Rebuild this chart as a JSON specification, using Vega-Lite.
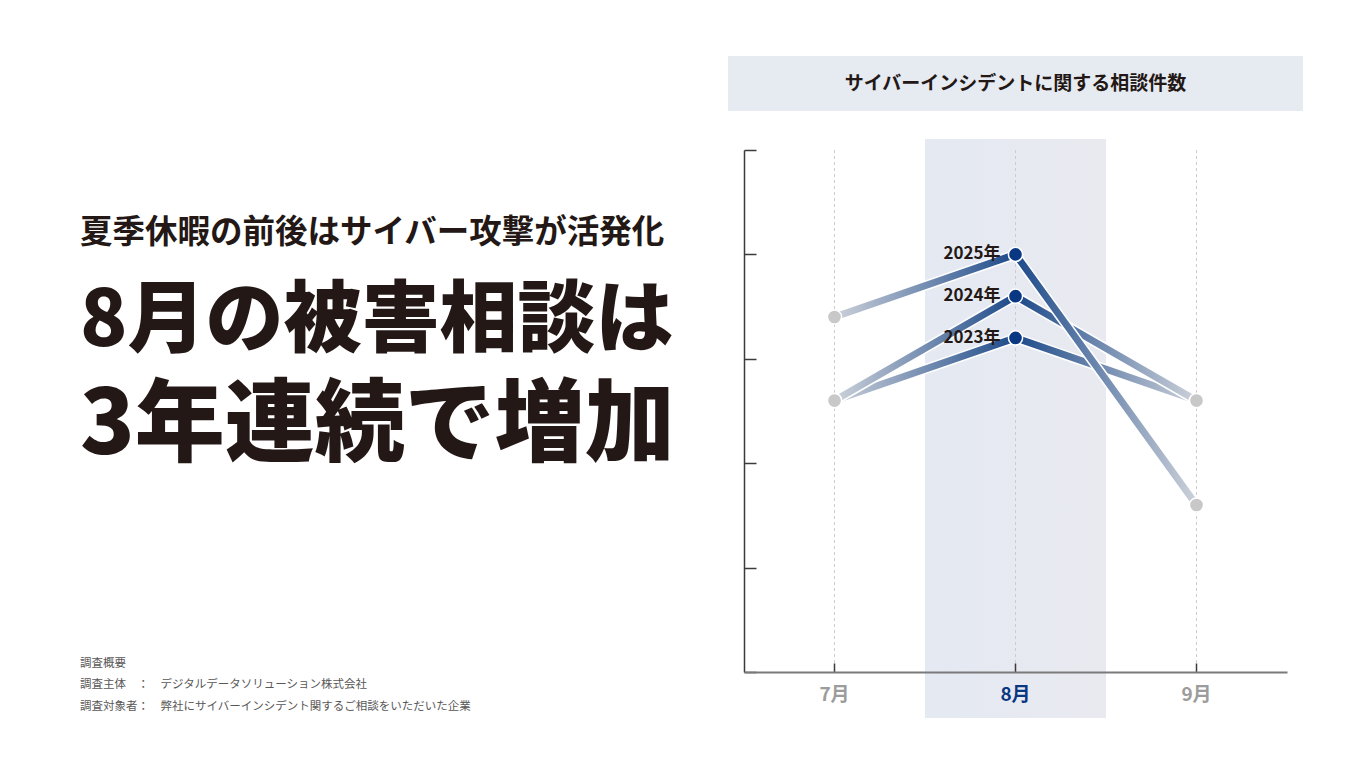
{
  "$schema": "https://vega.github.io/schema/vega-lite/v6.json",
  "background": "white",
  "padding": {"left": 80, "top": 56, "right": 0, "bottom": 0},
  "spacing": 28,
  "config": {
    "font": "Noto Sans CJK JP",
    "view": {"stroke": null}
  },
  "datasets": {
    "counts": [
      {"month": "7月", "series": "2023年", "count": 2.6},
      {"month": "8月", "series": "2023年", "count": 3.2},
      {"month": "9月", "series": "2023年", "count": 2.6},
      {"month": "7月", "series": "2024年", "count": 2.6},
      {"month": "8月", "series": "2024年", "count": 3.6},
      {"month": "9月", "series": "2024年", "count": 2.6},
      {"month": "7月", "series": "2025年", "count": 3.4},
      {"month": "8月", "series": "2025年", "count": 4.0},
      {"month": "9月", "series": "2025年", "count": 1.6}
    ],
    "months": [{"month": "7月"}, {"month": "8月"}, {"month": "9月"}],
    "highlight": [{"month": "8月"}],
    "header": [{"label": "サイバーインシデントに関する相談件数"}]
  },
  "hconcat": [
    {
      "spacing": 0,
      "vconcat": [
        {
          "width": 620,
          "height": 160,
          "data": {"values": []},
          "mark": "text"
        },
        {
          "width": 620,
          "height": 18.5,
          "data": {"values": []},
          "mark": "text",
          "title": {
            "text": "夏季休暇の前後はサイバー攻撃が活発化",
            "subtitle": "8月の被害相談は",
            "anchor": "start",
            "frame": "group",
            "offset": 0,
            "font": "Noto Sans CJK JP",
            "fontSize": 32.5,
            "fontWeight": "bold",
            "color": "#231815",
            "subtitleFont": "Noto Sans CJK JP",
            "subtitleFontSize": 78,
            "subtitleFontWeight": 900,
            "subtitleColor": "#231815",
            "subtitlePadding": 35
          }
        },
        {
          "width": 620,
          "height": 10,
          "data": {"values": []},
          "mark": "text",
          "title": {
            "text": "3年連続で増加",
            "subtitle": [
              "調査概要",
              "調査主体　：　デジタルデータソリューション株式会社",
              "調査対象者：　弊社にサイバーインシデント関するご相談をいただいた企業"
            ],
            "anchor": "start",
            "frame": "group",
            "offset": 0,
            "font": "Noto Sans CJK JP",
            "fontSize": 90,
            "fontWeight": 900,
            "color": "#231815",
            "subtitleFont": "Noto Sans CJK JP",
            "subtitleFontSize": 11.5,
            "subtitleFontWeight": "normal",
            "subtitleColor": "#595757",
            "subtitlePadding": 185,
            "subtitleLineHeight": 21.5
          }
        }
      ]
    },
    {
      "spacing": 28,
      "center": true,
      "vconcat": [
        {
          "width": 575,
          "height": 55,
          "view": {"fill": "#e6eaf1", "stroke": null},
          "data": {"name": "header"},
          "mark": {
            "type": "text",
            "fontSize": 19,
            "fontWeight": "bold",
            "color": "#231815"
          },
          "encoding": {
            "text": {"field": "label", "type": "nominal"}
          }
        },
        {
          "width": 543,
          "height": 522,
          "layer": [
            {
              "data": {"name": "highlight"},
              "mark": {
                "type": "rect",
                "fill": {
                  "gradient": "linear",
                  "x1": 0, "x2": 1, "y1": 0, "y2": 0,
                  "stops": [
                    {"offset": 0, "color": "#e4e9f2"},
                    {"offset": 1, "color": "#e9eaf0"}
                  ]
                }
              },
              "encoding": {
                "x": {
                  "field": "month",
                  "type": "nominal",
                  "sort": ["7月", "8月", "9月"],
                  "scale": {"type": "band", "paddingInner": 0, "paddingOuter": 0},
                  "axis": {
                    "title": null,
                    "grid": false,
                    "bandPosition": 0.5,
                    "domainColor": "#7a7a7a",
                    "domainWidth": 2,
                    "tickColor": "#3e3a39",
                    "tickWidth": 1.5,
                    "tickSize": -9,
                    "labelAngle": 0,
                    "labelFontSize": 19,
                    "labelFontWeight": "bold",
                    "labelPadding": 22,
                    "labelColor": {
                      "condition": {"test": "datum.value === '8月'", "value": "#0a3781"},
                      "value": "#9c9c9c"
                    }
                  }
                },
                "y": {
                  "datum": -0.44,
                  "type": "quantitative",
                  "scale": {"domain": [0, 5], "nice": false},
                  "axis": {
                    "title": null,
                    "grid": false,
                    "labels": false,
                    "values": [0, 1, 2, 3, 4, 5],
                    "domainColor": "#3e3a39",
                    "domainWidth": 1.5,
                    "tickColor": "#3e3a39",
                    "tickWidth": 1.5,
                    "tickSize": -12
                  }
                },
                "y2": {"datum": 5.105}
              }
            },
            {
              "data": {"name": "months"},
              "mark": {"type": "rule", "color": "#cccccc", "strokeDash": [3, 3], "strokeWidth": 1},
              "encoding": {
                "x": {"field": "month", "type": "nominal", "sort": ["7月", "8月", "9月"]}
              }
            },
            {
              "data": {"name": "counts"},
              "transform": [{"filter": "datum.series === '2023年'"}],
              "mark": {"type": "line", "color": "white", "strokeWidth": 10, "strokeJoin": "round"},
              "encoding": {
                "x": {"field": "month", "type": "nominal", "sort": ["7月", "8月", "9月"]},
                "y": {"field": "count", "type": "quantitative"}
              }
            },
            {
              "data": {"name": "counts"},
              "transform": [{"filter": "datum.series === '2023年'"}],
              "mark": {
                "type": "line",
                "strokeWidth": 7,
                "strokeJoin": "round",
                "color": {
                  "gradient": "linear",
                  "x1": 0, "x2": 1, "y1": 0, "y2": 0,
                  "stops": [
                    {"offset": 0, "color": "#ccd1d9"},
                    {"offset": 0.5, "color": "#1d4a8a"},
                    {"offset": 1, "color": "#ccd1d9"}
                  ]
                }
              },
              "encoding": {
                "x": {"field": "month", "type": "nominal", "sort": ["7月", "8月", "9月"]},
                "y": {"field": "count", "type": "quantitative"}
              }
            },
            {
              "data": {"name": "counts"},
              "transform": [{"filter": "datum.series === '2024年'"}],
              "mark": {"type": "line", "color": "white", "strokeWidth": 10, "strokeJoin": "round"},
              "encoding": {
                "x": {"field": "month", "type": "nominal", "sort": ["7月", "8月", "9月"]},
                "y": {"field": "count", "type": "quantitative"}
              }
            },
            {
              "data": {"name": "counts"},
              "transform": [{"filter": "datum.series === '2024年'"}],
              "mark": {
                "type": "line",
                "strokeWidth": 7,
                "strokeJoin": "round",
                "color": {
                  "gradient": "linear",
                  "x1": 0, "x2": 1, "y1": 0, "y2": 0,
                  "stops": [
                    {"offset": 0, "color": "#ccd1d9"},
                    {"offset": 0.5, "color": "#1d4a8a"},
                    {"offset": 1, "color": "#ccd1d9"}
                  ]
                }
              },
              "encoding": {
                "x": {"field": "month", "type": "nominal", "sort": ["7月", "8月", "9月"]},
                "y": {"field": "count", "type": "quantitative"}
              }
            },
            {
              "data": {"name": "counts"},
              "transform": [{"filter": "datum.series === '2025年'"}],
              "mark": {"type": "line", "color": "white", "strokeWidth": 10, "strokeJoin": "round"},
              "encoding": {
                "x": {"field": "month", "type": "nominal", "sort": ["7月", "8月", "9月"]},
                "y": {"field": "count", "type": "quantitative"}
              }
            },
            {
              "data": {"name": "counts"},
              "transform": [{"filter": "datum.series === '2025年'"}],
              "mark": {
                "type": "line",
                "strokeWidth": 7,
                "strokeJoin": "round",
                "color": {
                  "gradient": "linear",
                  "x1": 0, "x2": 1, "y1": 0, "y2": 0,
                  "stops": [
                    {"offset": 0, "color": "#ccd1d9"},
                    {"offset": 0.5, "color": "#1d4a8a"},
                    {"offset": 1, "color": "#ccd1d9"}
                  ]
                }
              },
              "encoding": {
                "x": {"field": "month", "type": "nominal", "sort": ["7月", "8月", "9月"]},
                "y": {"field": "count", "type": "quantitative"}
              }
            },
            {
              "data": {"name": "counts"},
              "mark": {"type": "point", "filled": true, "size": 200, "stroke": "white", "strokeWidth": 1.5, "opacity": 1},
              "encoding": {
                "x": {"field": "month", "type": "nominal", "sort": ["7月", "8月", "9月"]},
                "y": {"field": "count", "type": "quantitative"},
                "fill": {
                  "condition": {"test": "datum.month === '8月'", "value": "#0a3781"},
                  "value": "#c8c8c8"
                }
              }
            },
            {
              "data": {"name": "counts"},
              "transform": [{"filter": "datum.month === '8月'"}],
              "mark": {
                "type": "text",
                "align": "right",
                "baseline": "middle",
                "dx": -15,
                "fontSize": 17,
                "fontWeight": "bold",
                "color": "#231815"
              },
              "encoding": {
                "x": {"field": "month", "type": "nominal", "sort": ["7月", "8月", "9月"]},
                "y": {"field": "count", "type": "quantitative"},
                "text": {"field": "series", "type": "nominal"}
              }
            }
          ]
        }
      ]
    }
  ]
}
